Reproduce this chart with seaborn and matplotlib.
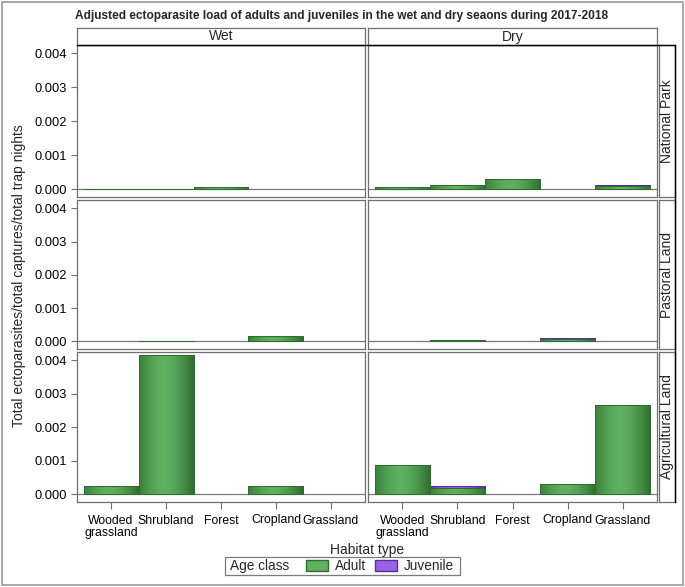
import numpy as np
import pandas as pd
import matplotlib
matplotlib.use("Agg")
import matplotlib.pyplot as plt
import seaborn as sns
from matplotlib.patches import Rectangle
from matplotlib.lines import Line2D
from matplotlib.colors import to_rgb

# ---------------- data ----------------
habitats = ["Wooded grassland", "Shrubland", "Forest", "Cropland", "Grassland"]
tick_labels = ["Wooded\ngrassland", "Shrubland", "Forest", "Cropland", "Grassland"]
seasons = ["Wet", "Dry"]
land_uses = ["National Park", "Pastoral Land", "Agricultural Land"]
age_classes = ["Adult", "Juvenile"]
y_ticks = [0.000, 0.001, 0.002, 0.003, 0.004]

np_wet_adult = [0.00001, 0.00001, 0.00006, 0.0, 0.0]
np_wet_juv = [0.0, 0.0, 0.0, 0.0, 0.0]
np_dry_adult = [0.00006, 0.00013, 0.00030, 0.0, 0.00008]
np_dry_juv = [0.0, 0.0, 0.0, 0.0, 0.00003]
pl_wet_adult = [0.0, 0.000006, 0.0, 0.00017, 0.0]
pl_wet_juv = [0.0, 0.000004, 0.0, 0.0, 0.0]
pl_dry_adult = [0.0, 0.00004, 0.0, 0.00006, 0.0]
pl_dry_juv = [0.0, 0.0, 0.0, 0.00003, 0.0]
al_wet_adult = [0.00025, 0.00416, 0.0, 0.00025, 0.0]
al_wet_juv = [0.0, 0.0, 0.0, 0.0, 0.0]
al_dry_adult = [0.00088, 0.00020, 0.0, 0.00031, 0.00267]
al_dry_juv = [0.0, 0.00005, 0.0, 0.0, 0.0]

series = {
    ("National Park", "Wet"): (np_wet_adult, np_wet_juv),
    ("National Park", "Dry"): (np_dry_adult, np_dry_juv),
    ("Pastoral Land", "Wet"): (pl_wet_adult, pl_wet_juv),
    ("Pastoral Land", "Dry"): (pl_dry_adult, pl_dry_juv),
    ("Agricultural Land", "Wet"): (al_wet_adult, al_wet_juv),
    ("Agricultural Land", "Dry"): (al_dry_adult, al_dry_juv),
}

rows = []
for (land, season), (ad, ju) in series.items():
    for h, a, j in zip(habitats, ad, ju):
        rows.append(dict(land=land, season=season, habitat=h, age="Adult", value=a))
        rows.append(dict(land=land, season=season, habitat=h, age="Juvenile", value=j))
df = pd.DataFrame(rows)

# ---------------- style ----------------
sns.set_theme(style="white")
plt.rcParams["font.family"] = ["Liberation Sans", "DejaVu Sans"]

W, H = 685, 587
fig = plt.figure(figsize=(W / 100, H / 100), dpi=100)
fig.patch.set_facecolor("white")

def frect(x0, y0, x1, y1):
    return [x0 / W, 1 - y1 / H, (x1 - x0) / W, (y1 - y0) / H]

col_x = [(77, 365), (368, 657)]
row_y = [(45, 197), (200, 349), (352, 502)]
GRAY = "#6f6f6f"

green_light, green_dark = "#5fb05f", "#2f6d2f"
purple_light, purple_dark = "#9a63e6", "#5a2ca0"

def grad_img(light, dark, n=64):
    t = np.linspace(0, 1, n)
    m = np.clip(1 - (np.abs(t - 0.45) / 0.55) ** 1.6, 0, 1)
    L = np.array(to_rgb(light)); D = np.array(to_rgb(dark))
    cols = D[None, :] * (1 - m[:, None]) + L[None, :] * m[:, None]
    return cols[None, :, :]

def shade(ax, patches, light, dark, z):
    img = grad_img(light, dark)
    for p in patches:
        x, y = p.get_x(), p.get_y()
        w, h = p.get_width(), p.get_height()
        if not np.isfinite(h) or h <= 0:
            p.set_visible(False)
            continue
        im = ax.imshow(img, extent=[x, x + w, y, y + h], aspect="auto",
                       interpolation="bilinear", zorder=z)
        im.set_clip_path(p)
        p.set_facecolor("none")
        p.set_edgecolor(dark)
        p.set_linewidth(0.7)
        p.set_zorder(z + 0.05)

XLIM = (-0.62, 4.62)
YLIM = (-0.00023, 0.00425)

for r, land in enumerate(land_uses):
    for c, season in enumerate(seasons):
        ax = fig.add_axes(frect(col_x[c][0], row_y[r][0], col_x[c][1], row_y[r][1]))
        sub = df[(df.land == land) & (df.season == season)]
        tot = sub.groupby("habitat", sort=False)["value"].sum().reindex(habitats).reset_index()
        ad = sub[sub.age == "Adult"]
        sns.barplot(data=tot, x="habitat", y="value", order=habitats, color=purple_light,
                    width=1.0, errorbar=None, ax=ax)
        n1 = len(ax.patches)
        sns.barplot(data=ad, x="habitat", y="value", order=habitats, color=green_light,
                    width=1.0, errorbar=None, ax=ax)
        pts = list(ax.patches)
        shade(ax, pts[:n1], purple_light, purple_dark, 2.0)
        shade(ax, pts[n1:], green_light, green_dark, 2.2)
        ax.axhline(0, color="#7a7a7a", lw=0.9, zorder=1.5)
        ax.set_xlim(*XLIM)
        ax.set_ylim(*YLIM)
        ax.set_xlabel("")
        ax.set_ylabel("")
        for s in ax.spines.values():
            s.set_color(GRAY)
            s.set_linewidth(0.9)
        if r == 0:
            ax.spines["top"].set_color("black")
        if c == 0:
            ax.set_yticks(y_ticks)
            ax.set_yticklabels([f"{v:.3f}" for v in y_ticks])
            ax.tick_params(axis="y", left=True, length=4, width=0.8, color=GRAY,
                           labelsize=9.3, pad=3, labelcolor="black")
        else:
            ax.set_yticks([])
        if r == 2:
            ax.set_xticks(range(len(habitats)))
            ax.set_xticklabels(tick_labels, linespacing=1.1)
            ax.tick_params(axis="x", bottom=True, length=5, width=0.8, color=GRAY,
                           labelsize=8.8, pad=4, labelcolor="black")
        else:
            ax.set_xticks([])

# column strips
for c, season in enumerate(seasons):
    sax = fig.add_axes(frect(col_x[c][0], 28, col_x[c][1], 45))
    sax.set_xticks([]); sax.set_yticks([])
    for s in sax.spines.values():
        s.set_color(GRAY); s.set_linewidth(0.9)
    sax.text(0.5, 0.5, season, ha="center", va="center", fontsize=10, transform=sax.transAxes)

# row strips
for r, land in enumerate(land_uses):
    sax = fig.add_axes(frect(659, row_y[r][0], 675, row_y[r][1]))
    sax.set_xticks([]); sax.set_yticks([])
    for s in sax.spines.values():
        s.set_color(GRAY); s.set_linewidth(0.9)
    sax.spines["right"].set_color("black")
    sax.text(0.5, 0.5, land, ha="center", va="center", rotation=90, fontsize=10,
             transform=sax.transAxes)

# black outline top / right
fig.add_artist(Line2D([77 / W, 675 / W], [1 - 45 / H, 1 - 45 / H], color="black", lw=1.0))
fig.add_artist(Line2D([675 / W, 675 / W], [1 - 45 / H, 1 - 502 / H], color="black", lw=1.0))

# outer border
fig.add_artist(Rectangle((2 / W, 2 / H), (W - 4) / W, (H - 4) / H, fill=False,
                         edgecolor="#9a9a9a", lw=1.2, transform=fig.transFigure))

# title & labels
fig.text(342 / W, 1 - 16 / H,
         "Adjusted ectoparasite load of adults and juveniles in the wet and dry seaons during 2017-2018",
         ha="center", va="center", fontsize=8.6, fontweight="bold")
fig.text(19 / W, 1 - 276 / H, "Total ectoparasites/total captures/total trap nights",
         ha="center", va="center", rotation=90, fontsize=10)
fig.text(367 / W, 1 - 550 / H, "Habitat type", ha="center", va="center", fontsize=10)

# legend
fig.add_artist(Rectangle((225 / W, 1 - 575 / H), 235 / W, 18 / H, fill=False,
                         edgecolor="#7a7a7a", lw=0.9, transform=fig.transFigure))
fig.text(230 / W, 1 - 566 / H, "Age class", ha="left", va="center", fontsize=9.8)
handles = [Rectangle((0, 0), 1, 1, facecolor=green_light, edgecolor=green_dark),
           Rectangle((0, 0), 1, 1, facecolor=purple_light, edgecolor=purple_dark)]
fig.legend(handles, age_classes, ncol=2, frameon=False, fontsize=9.8,
           loc="center left", bbox_to_anchor=(306 / W, 1 - 566 / H),
           handlelength=1.6, handleheight=0.9, handletextpad=0.5, columnspacing=0.7,
           borderpad=0, borderaxespad=0)

fig.savefig("out.png", dpi=100, facecolor="white")
